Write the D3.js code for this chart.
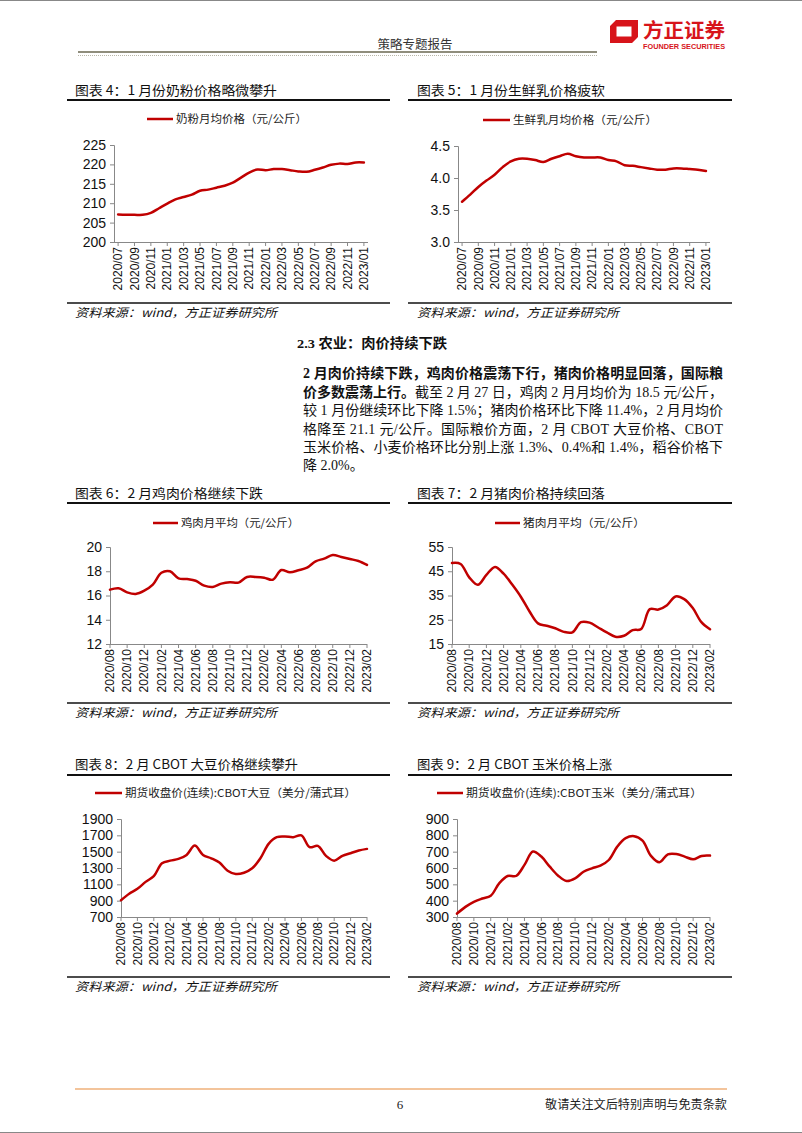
<!DOCTYPE html>
<html>
<head>
<meta charset="utf-8">
<script src="https://cdn.jsdelivr.net/npm/d3@7"></script>
<style>
  html, body { margin: 0; padding: 0; background: #fff; }
  svg { display: block; font-family: "Noto Sans CJK SC", "Liberation Sans", sans-serif; }
</style>
</head>
<body>
<script>
// ---------------- DATA ----------------
const monthsA = ["2020/07","2020/08","2020/09","2020/10","2020/11","2020/12",
  "2021/01","2021/02","2021/03","2021/04","2021/05","2021/06","2021/07","2021/08","2021/09","2021/10","2021/11","2021/12",
  "2022/01","2022/02","2022/03","2022/04","2022/05","2022/06","2022/07","2022/08","2022/09","2022/10","2022/11","2022/12",
  "2023/01"];
const monthsB = ["2020/08","2020/09","2020/10","2020/11","2020/12",
  "2021/01","2021/02","2021/03","2021/04","2021/05","2021/06","2021/07","2021/08","2021/09","2021/10","2021/11","2021/12",
  "2022/01","2022/02","2022/03","2022/04","2022/05","2022/06","2022/07","2022/08","2022/09","2022/10","2022/11","2022/12",
  "2023/01","2023/02"];

const milkPowder = [207.1,207.0,207.0,207.0,207.5,208.7,209.9,211.0,211.6,212.2,213.2,213.5,214.0,214.5,215.3,216.6,
  217.9,218.7,218.5,218.8,218.8,218.5,218.2,218.1,218.6,219.2,219.9,220.2,220.1,220.5,220.5];
const rawMilk = [3.63,3.74,3.86,3.96,4.05,4.17,4.26,4.30,4.30,4.28,4.25,4.30,4.34,4.38,4.34,4.32,
  4.32,4.32,4.28,4.26,4.20,4.19,4.17,4.15,4.13,4.13,4.15,4.15,4.14,4.13,4.11];
const chicken = [16.48,16.60,16.26,16.13,16.40,16.90,17.88,18.00,17.42,17.36,17.22,16.81,16.70,16.98,17.09,17.06,
  17.53,17.53,17.47,17.30,18.10,17.91,18.08,18.30,18.82,19.04,19.34,19.18,19.01,18.85,18.52];
const pork = [48.4,48.0,42.5,39.4,43.5,46.8,44.0,39.5,34.5,28.5,23.5,22.5,21.5,20.0,19.8,24.0,
  23.8,21.8,19.8,18.0,18.4,20.7,21.2,29.4,29.2,31.0,34.6,33.5,29.8,24.0,21.1];
const soybean = [905,985,1045,1130,1200,1357,1390,1411,1460,1575,1460,1419,1366,1267,1226,1242,
  1296,1419,1596,1678,1686,1678,1699,1555,1571,1448,1390,1448,1481,1514,1534];
const corn = [321,362,393,413,430,506,551,551,619,701,670,608,553,520,536,577,
  598,614,649,731,783,795,768,674,635,684,686,670,653,674,676];

const ticksMilkPowder = [200,205,210,215,220,225];
const ticksRawMilk = [3.0,3.5,4.0,4.5];
const ticksChicken = [12,14,16,18,20];
const ticksPork = [15,25,35,45,55];
const ticksSoybean = [700,900,1100,1300,1500,1700,1900];
const ticksCorn = [300,400,500,600,700,800,900];

const titles = ["图表 4：1 月份奶粉价格略微攀升","图表 5：1 月份生鲜乳价格疲软","图表 6：2 月鸡肉价格继续下跌",
  "图表 7：2 月猪肉价格持续回落","图表 8：2 月 CBOT 大豆价格继续攀升","图表 9：2 月 CBOT 玉米价格上涨"];
const legends = ["奶粉月均价格（元/公斤）","生鲜乳月均价格（元/公斤）","鸡肉月平均（元/公斤）","猪肉月平均（元/公斤）",
  "期货收盘价(连续):CBOT大豆（美分/蒲式耳）","期货收盘价(连续):CBOT玉米（美分/蒲式耳）"];
const sourceText = "资料来源：wind，方正证券研究所";

// ---------------- PAGE ----------------
const RED = "#C00000";
const NUMFONT = "'Liberation Sans', Arial, sans-serif";
const SERIFMIX = "'Liberation Serif', 'Noto Sans CJK SC', serif";
const svg = d3.select("body").append("svg").attr("width", 802).attr("height", 1133);

// page borders
svg.append("line").attr("x1",0).attr("x2",802).attr("y1",0.5).attr("y2",0.5).attr("stroke","#888");
svg.append("line").attr("x1",0).attr("x2",802).attr("y1",1132.5).attr("y2",1132.5).attr("stroke","#888");

// header
svg.append("text").attr("x", 415).attr("y", 49).attr("text-anchor","middle")
  .attr("font-size", 12.5).attr("fill","#333").text("策略专题报告");
svg.append("line").attr("x1",78).attr("x2",597).attr("y1",52).attr("y2",52).attr("stroke","#8f8d7c").attr("stroke-width",2);
svg.append("line").attr("x1",78).attr("x2",597).attr("y1",55.5).attr("y2",55.5).attr("stroke","#b9b7a8")
  .attr("stroke-width",1).attr("stroke-dasharray","1,1");
// logo
svg.append("path").attr("fill-rule","evenodd").attr("fill","#D7141A")
  .attr("d","M616,20 L638,20 L638,37 L632,43 L610,43 L610,26 Z M616.5,26.5 L631.5,26.5 L631.5,36.5 L616.5,36.5 Z");
svg.append("text").attr("x",643).attr("y",38).attr("font-size",20).attr("font-weight","bold").attr("fill","#D7141A")
  .attr("textLength",82).attr("lengthAdjust","spacingAndGlyphs").text("方正证券");
svg.append("text").attr("x",643).attr("y",49).attr("font-size",7).attr("font-weight","bold").attr("fill","#D7141A")
  .style("font-family", NUMFONT).attr("textLength",82).attr("lengthAdjust","spacingAndGlyphs").text("FOUNDER SECURITIES");

// footer
svg.append("line").attr("x1",75).attr("x2",727).attr("y1",1089).attr("y2",1089).attr("stroke","#F3C49B").attr("stroke-width",2);
svg.append("text").attr("x",400).attr("y",1109).attr("text-anchor","middle").attr("font-size",13)
  .style("font-family", SERIFMIX).attr("fill","#222").text("6");
svg.append("text").attr("x",727).attr("y",1109).attr("text-anchor","end").attr("font-size",12).attr("fill","#222")
  .attr("textLength",182).attr("lengthAdjust","spacingAndGlyphs").text("敬请关注文后特别声明与免责条款");

// section text
svg.append("text").attr("x",297).attr("y",348).attr("font-size",13.5).attr("font-weight","bold").attr("fill","#111")
  .style("font-family", SERIFMIX)
  .attr("textLength",150).attr("lengthAdjust","spacingAndGlyphs").text("2.3 农业：肉价持续下跌");
const paraLines = [
  [["2 月肉价持续下跌，鸡肉价格震荡下行，猪肉价格明显回落，国际粮", true]],
  [["价多数震荡上行。", true], ["截至 2 月 27 日，鸡肉 2 月月均价为 18.5 元/公斤，", false]],
  [["较 1 月份继续环比下降 1.5%；猪肉价格环比下降 11.4%，2 月月均价", false]],
  [["格降至 21.1 元/公斤。国际粮价方面，2 月 CBOT 大豆价格、CBOT", false]],
  [["玉米价格、小麦价格环比分别上涨 1.3%、0.4%和 1.4%，稻谷价格下", false]],
  [["降 2.0%。", false]]
];
const lineYs = [378, 396.5, 415, 433.5, 452, 470];
paraLines.forEach((segs, i) => {
  const t = svg.append("text").attr("x",303).attr("y",lineYs[i]).attr("font-size",14).attr("fill","#111")
    .style("font-family", SERIFMIX);
  if (i < paraLines.length - 1) t.attr("textLength",420).attr("lengthAdjust","spacing");
  segs.forEach(([s, b]) => t.append("tspan").attr("font-weight", b ? "bold" : "normal").text(s));
});

// ---------------- CHARTS ----------------
function drawChart(c) {
  const g = svg.append("g");
  // title
  g.append("text").attr("x", c.left).attr("y", c.titleY + 5).attr("font-size", 13).attr("fill","#111")
    .attr("textLength", c.titleW).attr("lengthAdjust","spacingAndGlyphs").text(c.title);
  g.append("line").attr("x1", c.ruleX[0]).attr("x2", c.ruleX[1]).attr("y1", c.ruleY).attr("y2", c.ruleY)
    .attr("stroke","#111").attr("stroke-width",2);
  // legend
  g.append("line").attr("x1", c.legLine[0]).attr("x2", c.legLine[1]).attr("y1", c.legY).attr("y2", c.legY)
    .attr("stroke", RED).attr("stroke-width", 2.5);
  g.append("text").attr("x", c.legLine[1] + 3).attr("y", c.legY + 4).attr("font-size", 11).attr("fill","#222")
    .attr("textLength", c.legW).attr("lengthAdjust","spacingAndGlyphs").text(c.legend);

  // scales
  let xPos;
  if (c.mode === "band") {
    const xb = d3.scaleBand().domain(c.cats).range([c.x0, c.x1]);
    xPos = d => xb(d) + xb.bandwidth() / 2;
  } else {
    const xp = d3.scalePoint().domain(c.cats).range([c.x0, c.x1]);
    xPos = d => xp(d);
  }
  const y = d3.scaleLinear().domain([c.ticks[0], c.ticks[c.ticks.length - 1]]).range([c.y1, c.y0]);

  // y axis
  const ya = g.append("g").attr("transform", `translate(${c.x0},0)`)
    .call(d3.axisLeft(y).tickValues(c.ticks).tickSize(4).tickPadding(4).tickFormat(c.fmt));
  ya.select(".domain").attr("stroke","#888");
  ya.selectAll(".tick line").attr("stroke","#888");
  ya.selectAll(".tick text").attr("font-size",14).attr("fill","#111").style("font-family", NUMFONT);

  // x axis
  const labelCats = c.cats.filter((d, i) => i % 2 === 0);
  const xs = d3.scaleOrdinal().domain(labelCats).range(labelCats.map(xPos));
  g.append("line").attr("x1", c.x0).attr("x2", c.x1).attr("y1", c.y1 + 0.5).attr("y2", c.y1 + 0.5).attr("stroke","#888");
  const xt = g.selectAll(".xt").data(labelCats).join("g").attr("class","xt")
    .attr("transform", d => `translate(${xs(d)},${c.y1})`);
  xt.append("line").attr("y1",0).attr("y2",4).attr("stroke","#888");
  xt.append("text").attr("transform","rotate(-90)").attr("x",-5).attr("y",0).attr("dy","0.35em")
    .attr("text-anchor","end").attr("font-size",12).attr("fill","#111")
    .style("font-family", NUMFONT).text(d => d);

  // line
  const line = d3.line().x((d, i) => xPos(c.cats[i])).y(d => y(d)).curve(d3.curveCatmullRom.alpha(0.5));
  g.append("path").datum(c.values).attr("d", line).attr("fill","none").attr("stroke", RED)
    .attr("stroke-width", 2.5).attr("stroke-linejoin","round").attr("stroke-linecap","round");

  // bottom rule + source
  g.append("line").attr("x1", c.ruleX[0]).attr("x2", c.ruleX[1]).attr("y1", c.botY).attr("y2", c.botY)
    .attr("stroke","#111").attr("stroke-width",1.5);
  g.append("text").attr("x", c.left).attr("y", c.botY + 14).attr("font-size", 12).attr("font-style","italic")
    .attr("fill","#111").attr("textLength", 202).attr("lengthAdjust","spacingAndGlyphs").text(sourceText);
}

const fmtInt = d3.format("d");
const fmt1 = d3.format(".1f");
const L = { left: 75, ruleX: [67, 390] };
const R = { left: 417, ruleX: [408, 732] };

drawChart({ ...L, title: titles[0], titleY: 90, titleW: 202, ruleY: 100, legY: 119, legLine: [147,173], legW: 131,
  legend: legends[0], cats: monthsA, values: milkPowder, mode: "band", x0: 114, x1: 368, y0: 145, y1: 242,
  ticks: ticksMilkPowder, fmt: fmtInt, botY: 303 });
drawChart({ ...R, title: titles[1], titleY: 90, titleW: 188, ruleY: 100, legY: 120, legLine: [483,510], legW: 144,
  legend: legends[1], cats: monthsA, values: rawMilk, mode: "band", x0: 458, x1: 710, y0: 146, y1: 242,
  ticks: ticksRawMilk, fmt: fmt1, botY: 303 });
drawChart({ ...L, title: titles[2], titleY: 493, titleW: 188, ruleY: 503, legY: 523, legLine: [153,178], legW: 118,
  legend: legends[2], cats: monthsB, values: chicken, mode: "point", x0: 110, x1: 367, y0: 547, y1: 644,
  ticks: ticksChicken, fmt: fmtInt, botY: 703 });
drawChart({ ...R, title: titles[3], titleY: 493, titleW: 188, ruleY: 503, legY: 523, legLine: [495,520], legW: 122,
  legend: legends[3], cats: monthsB, values: pork, mode: "point", x0: 452, x1: 710, y0: 547, y1: 644,
  ticks: ticksPork, fmt: fmtInt, botY: 703 });
drawChart({ ...L, title: titles[4], titleY: 764, titleW: 223, ruleY: 775, legY: 793, legLine: [95,122], legW: 231,
  legend: legends[4], cats: monthsB, values: soybean, mode: "point", x0: 121, x1: 367, y0: 819, y1: 917,
  ticks: ticksSoybean, fmt: fmtInt, botY: 977 });
drawChart({ ...R, title: titles[5], titleY: 764, titleW: 195, ruleY: 775, legY: 793, legLine: [437,463], legW: 236,
  legend: legends[5], cats: monthsB, values: corn, mode: "point", x0: 457, x1: 710, y0: 819, y1: 917,
  ticks: ticksCorn, fmt: fmtInt, botY: 977 });
</script>
</body>
</html>
